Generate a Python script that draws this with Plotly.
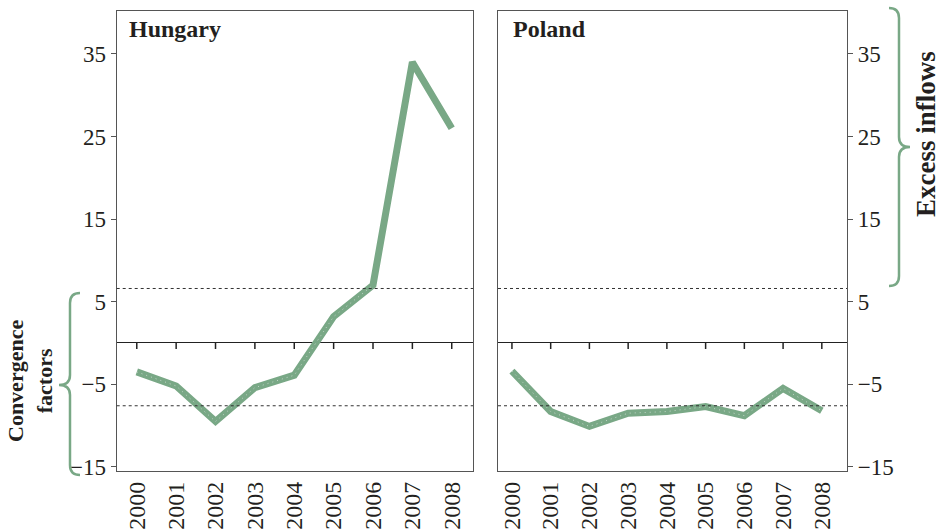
import plotly.graph_objects as go

# Data
years = [2000, 2001, 2002, 2003, 2004, 2005, 2006, 2007, 2008]
hungary = [-3.5, -5.2, -9.5, -5.4, -3.9, 3.2, 7.0, 34.0, 26.0]
poland = [-3.4, -8.3, -10.1, -8.5, -8.3, -7.7, -8.8, -5.5, -8.2]
y_ticks = [35, 25, 15, 5, -5, -15]
upper_ref = 6.6     # excess-inflow threshold
lower_ref = -7.6    # convergence threshold

W, H = 943, 531
GREEN = "#79a886"
INK = "#231f20"
FONT = "Liberation Serif"

fig = go.Figure()

def add_series(xs, ys, xa, ya, dotted_upto):
    fig.add_trace(go.Scatter(x=xs, y=ys, xaxis=xa, yaxis=ya, mode="lines",
                             line=dict(color=GREEN, width=7), hoverinfo="skip"))
    # faint dotted core along the convergence part of the line
    fig.add_trace(go.Scatter(x=xs[:dotted_upto], y=ys[:dotted_upto], xaxis=xa, yaxis=ya,
                             mode="lines", opacity=0.55,
                             line=dict(color="white", width=1, dash="1px,4px"),
                             hoverinfo="skip"))

add_series(years, hungary, "x", "y", 7)
add_series(years, poland, "x2", "y2", 9)

y_top = 1 - 11 / H
y_bot = 1 - 471 / H
y_range = [-15.5, 40.2]

axis_common = dict(showgrid=False, showline=True, linecolor="#555", linewidth=1.2,
                   mirror=True, automargin=False)

fig.update_layout(
    width=W, height=H,
    margin=dict(l=0, r=0, t=0, b=0),
    paper_bgcolor="white", plot_bgcolor="white",
    showlegend=False,
    font=dict(family=FONT, color=INK, size=23),
    xaxis=dict(domain=[116.7 / W, 473 / W], range=[1999.49, 2008.54],
               tickmode="array", tickvals=years, ticktext=[str(y) for y in years],
               tickangle=-90, ticks="", tickfont=dict(size=24), anchor="y", **axis_common),
    yaxis=dict(domain=[y_bot, y_top], range=y_range, tickmode="array", tickvals=y_ticks,
               ticks="outside", ticklen=5, tickcolor="#555", side="left",
               zeroline=True, zerolinecolor="#222", zerolinewidth=1.2,
               anchor="x", **axis_common),
    xaxis2=dict(domain=[498 / W, 847 / W], range=[1999.64, 2008.65],
                tickmode="array", tickvals=years, ticktext=[str(y) for y in years],
                tickangle=-90, ticks="", tickfont=dict(size=24), anchor="y2", **axis_common),
    yaxis2=dict(domain=[y_bot, y_top], range=y_range, tickmode="array", tickvals=y_ticks,
                ticks="outside", ticklen=5, tickcolor="#555", side="right",
                zeroline=True, zerolinecolor="#222", zerolinewidth=1.2,
                anchor="x2", **axis_common),
)

shapes = []
# dashed threshold lines in both panels
for xa, ya in (("x", "y"), ("x2", "y2")):
    for v in (upper_ref, lower_ref):
        shapes.append(dict(type="line", xref=f"{xa} domain", yref=ya, x0=0, x1=1,
                           y0=v, y1=v, line=dict(color="#333", width=1, dash="3px,3px")))
    # small year ticks hanging from the zero line
    for yr in years:
        shapes.append(dict(type="line", xref=xa, yref=ya, x0=yr, x1=yr,
                           ysizemode="pixel", yanchor=0, y0=0, y1=-6,
                           line=dict(color="#222", width=1.5)))

def px(x, y):
    return f"{x / W:.5f},{1 - y / H:.5f}"

def brace(x_end, x_mid, x_tip, y0, y_tip, y1):
    r = 10
    return ("M " + px(x_end, y0) +
            " Q " + px(x_mid, y0) + " " + px(x_mid, y0 + r) +
            " L " + px(x_mid, y_tip - r) +
            " Q " + px(x_mid, y_tip) + " " + px(x_tip, y_tip) +
            " Q " + px(x_mid, y_tip) + " " + px(x_mid, y_tip + r) +
            " L " + px(x_mid, y1 - r) +
            " Q " + px(x_mid, y1) + " " + px(x_end, y1))

shapes.append(dict(type="path", xref="paper", yref="paper",
                   path=brace(80, 70, 59, 293, 385, 475),
                   line=dict(color=GREEN, width=2.5)))
shapes.append(dict(type="path", xref="paper", yref="paper",
                   path=brace(889, 899, 910, 8, 147, 286),
                   line=dict(color=GREEN, width=2.5)))
fig.update_layout(shapes=shapes)

fig.add_annotation(text="<b>Hungary</b>", xref="paper", yref="paper",
                   x=127 / W, y=1 - 29 / H, xanchor="left", yanchor="middle",
                   showarrow=False, font=dict(size=24, family=FONT, color=INK))
fig.add_annotation(text="<b>Poland</b>", xref="paper", yref="paper",
                   x=511 / W, y=1 - 29 / H, xanchor="left", yanchor="middle",
                   showarrow=False, font=dict(size=24, family=FONT, color=INK))
fig.add_annotation(text="<b>Convergence<br>factors</b>", xref="paper", yref="paper",
                   x=30 / W, y=1 - 381 / H, xanchor="center", yanchor="middle",
                   textangle=-90, showarrow=False,
                   font=dict(size=22, family=FONT, color=INK))
fig.add_annotation(text="<b>Excess inflows</b>", xref="paper", yref="paper",
                   x=926 / W, y=1 - 134 / H, xanchor="center", yanchor="middle",
                   textangle=-90, showarrow=False,
                   font=dict(size=27, family=FONT, color=INK))

fig.write_html("out.html")
